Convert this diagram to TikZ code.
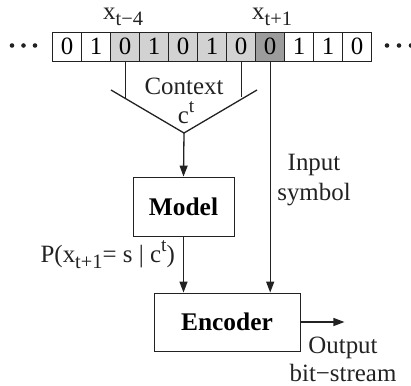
\documentclass[tikz,border=0pt]{standalone}
\usepackage{fontspec}
\setmainfont{Liberation Serif}
\usetikzlibrary{arrows.meta}
\newcommand\mysub[1]{\raisebox{-0.28em}{\fontsize{20.5}{20.5}\selectfont #1}}
\newcommand\mysup[1]{\raisebox{0.42em}{\fontsize{19.5}{19.5}\selectfont #1}}
\definecolor{lightcell}{HTML}{D2D2D2}
\definecolor{darkcell}{HTML}{9C9C9C}
\definecolor{ink}{HTML}{222222}
\begin{document}
\begin{tikzpicture}[x=1bp,y=-1bp,
  font=\fontsize{25}{28}\selectfont,
  cell/.style={draw=ink,line width=0.9bp,minimum width=29bp,minimum height=29bp,inner sep=0pt,anchor=center},
  blockbox/.style={draw=ink,line width=0.9bp,inner sep=0pt,font=\fontsize{25.5}{28}\selectfont\bfseries},
  conn/.style={draw=ink,line width=1.3bp},
  arr/.style={conn,-{Triangle[length=11bp,width=8bp]}},
  lbl/.style={inner sep=0pt,anchor=base,text=ink}]
\useasboundingbox (0,0) rectangle (411,386);
% dots
\foreach \x [count=\i] in {12,23.5,35,387,399,411}{
  \fill[ink] (\x,45.5) circle (2.3bp);
}
% cells
\foreach \v [count=\i from 0] in {0,1,0,1,0,1,0,0,1,1,0}{
  \pgfmathsetmacro\cx{52.7+14.5+29*\i}
  \ifnum\i<2 \def\fc{white}\else\ifnum\i<7 \def\fc{lightcell}\else\ifnum\i=7 \def\fc{darkcell}\else\def\fc{white}\fi\fi\fi
  \node[cell,fill=\fc] (c\i) at (\cx,46.5) {\v};
}
% labels above
\node[lbl,anchor=base west] (xa) at (103,19) {x\mysub{t−4}};
\node[lbl,anchor=base west] (xb) at (252,19) {x\mysub{t+1}};
% context funnel
\coordinate (fl) at (111,90);
\coordinate (tip) at (184,133);
\coordinate (fr) at (257,90);
\draw[conn] (c2.south) -- (c2.south |- 0,98.5) coordinate (ca);
\draw[conn] (c6.south) -- (c6.south |- 0,97) coordinate (cb);
\draw[conn] (fl) -- (tip) -- (fr);
\node[lbl] (ctx) at (184,94) {Context};
\node[lbl] (ct) at (186,123) {c\mysup{t}};
% blocks
\node[blockbox,minimum width=101bp,minimum height=59bp] (model) at (183.5,206.5) {Model};
\node[blockbox,minimum width=146bp,minimum height=58bp] (enc) at (227,322) {Encoder};
% connectors
\draw[arr] (tip) -- (model.north);
\draw[arr] (model.south) -- (model.south |- enc.north);
\draw[arr] (c7.south) -- (c7.south |- enc.north);
\draw[arr] (enc.east) -- ++(44,0) coordinate (out);
% side labels
\node[lbl] (in1) at (314,170) {Input};
\node[lbl] (in2) at (314,200) {symbol};
\node[lbl,anchor=base east] (prob) at (175,262) {P(x\mysub{t+1}= s | c\mysup{t})};
\node[lbl] (o1) at (343,353) {Output};
\node[lbl] (o2) at (343,381) {bit−stream};
\end{tikzpicture}
\end{document}
